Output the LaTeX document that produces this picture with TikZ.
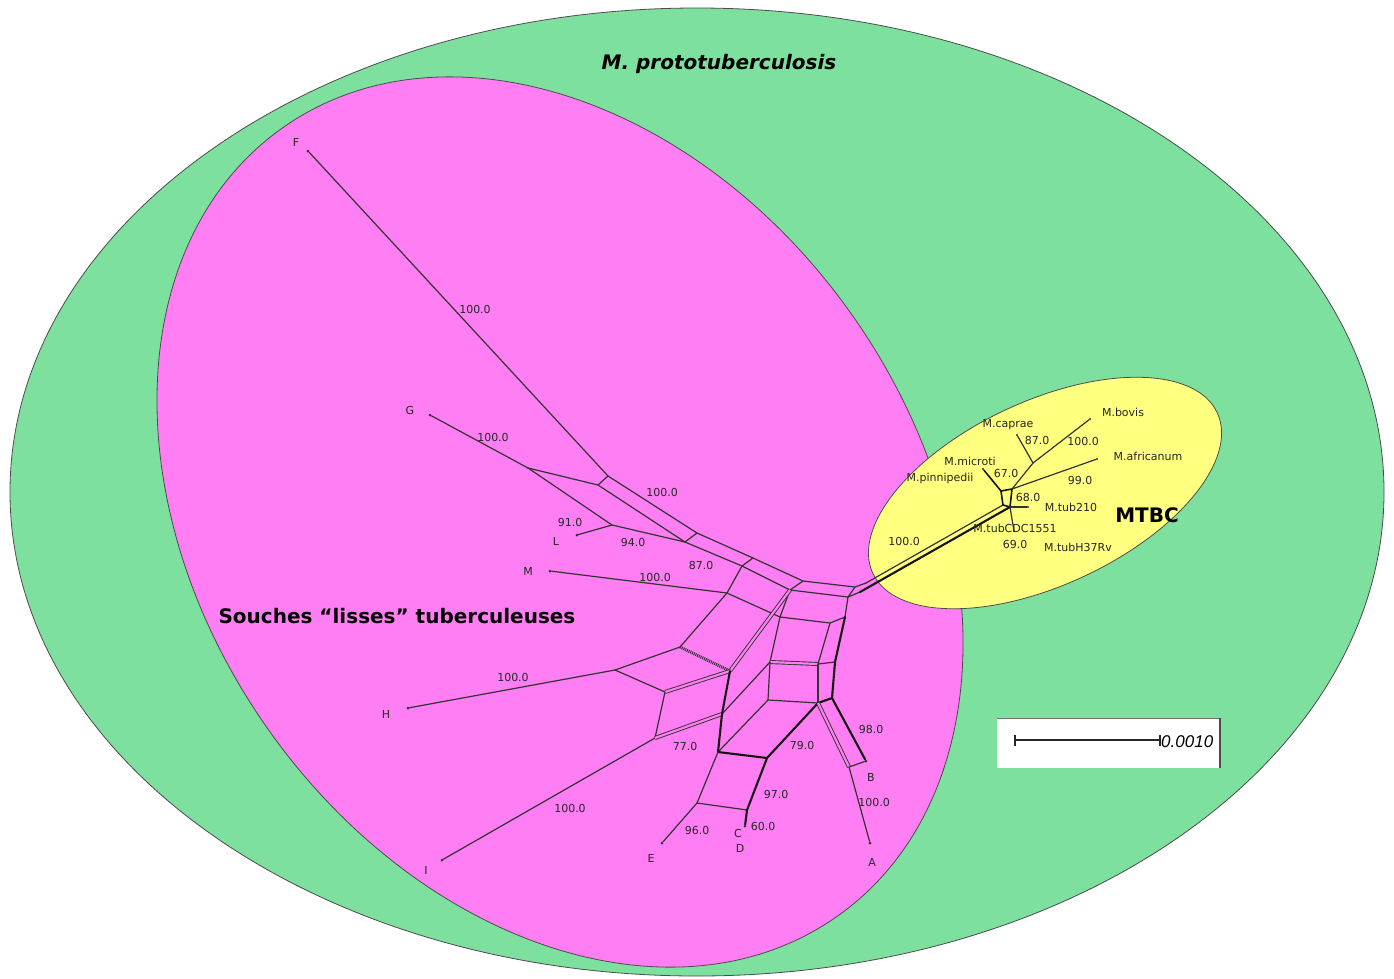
\documentclass[tikz,border=0pt]{standalone}
\usepackage{fontspec}
\setmainfont{DejaVu Sans}
\newfontfamily\barfont{Liberation Sans}
\definecolor{protogreen}{RGB}{126,224,158}
\definecolor{smoothpink}{RGB}{255,126,243}
\definecolor{mtbcyellow}{RGB}{255,255,128}
\begin{document}
\begin{tikzpicture}[x=1pt,y=-1pt,
  zone/.style={draw=black!70, line width=0.8pt},
  e/.style={draw=black!80, line width=1.2pt, line cap=round, line join=round},
  eb/.style={draw=black!92, line width=2.1pt, line cap=round, line join=round},
  ed/.style={draw=black!80, line width=0.9pt, double=smoothpink, double distance=2.2pt},
  hatch/.style={draw=black!80, line width=3pt, dash pattern=on 1pt off 0.9pt},
  leaf/.style={circle, fill=black!80, inner sep=0pt, minimum size=3pt},
  lab/.style={font=\fontsize{11}{12}\selectfont, text=black!85, inner sep=0pt},
  big/.style={font=\fontsize{20}{22}\selectfont\bfseries, inner sep=0pt}]
\useasboundingbox (0,0) rectangle (1394,978);
\fill[white] (0,0) rectangle (1394,978);

% nested groups
\draw[zone, fill=protogreen] (697,492) ellipse [x radius=687pt, y radius=484pt];
\draw[zone, fill=smoothpink, rotate around={-55:(560,522)}] (560,522) ellipse [x radius=482pt, y radius=358pt];
\draw[zone, fill=mtbcyellow, rotate around={25:(1045,493)}] (1045,493) ellipse [x radius=190pt, y radius=92pt];

% leaves of the smooth strains
\node[leaf] (F) at (308,151) {};
\node[leaf] (G) at (430,415) {};
\node[leaf] (L) at (577,535) {};
\node[leaf] (M) at (550,571) {};
\node[leaf] (H) at (408,708) {};
\node[leaf] (I) at (442,860) {};
\node[leaf] (E) at (662,843) {};
\node[leaf] (CD) at (745,826) {};
\node[leaf] (B) at (866,761) {};
\node[leaf] (A) at (870,843) {};

% internal vertices of the split network
\coordinate (g) at (528,468);
\coordinate (l) at (612,525);
\coordinate (a1) at (608,476);
\coordinate (b1) at (598,485);
\coordinate (a2) at (697,533);
\coordinate (b2) at (685,542);
\coordinate (a3) at (753,558);
\coordinate (b3) at (742,566);
\coordinate (a4) at (803,581);
\coordinate (b4) at (790,590);
\coordinate (a5) at (855,587);
\coordinate (b5) at (848,597);
\coordinate (c1) at (727,593);
\coordinate (c2) at (780,617);
\coordinate (c3) at (830,623);
\coordinate (c4) at (845,617);
\coordinate (h1) at (866,583);
\coordinate (h2) at (860,592);
\coordinate (m1) at (680,647);
\coordinate (hj) at (615,670);
\coordinate (m3) at (665,692);
\coordinate (m4) at (730,671);
\coordinate (ij) at (655,738);
\coordinate (n1) at (722,714);
\coordinate (n2) at (718,752);
\coordinate (w1) at (770,662);
\coordinate (w2) at (818,664);
\coordinate (w3) at (835,662);
\coordinate (v1) at (768,700);
\coordinate (v2) at (818,703);
\coordinate (v3) at (832,698);
\coordinate (p1) at (767,758);
\coordinate (q1) at (697,803);
\coordinate (q2) at (747,810);
\coordinate (s1) at (849,767);

% upper bands
\draw[e] (F) -- (a1);
\draw[e] (G) -- (g);
\draw[e] (g) -- (b1);
\draw[e] (a1) -- (b1);
\draw[e] (g) -- (l);
\draw[e] (L) -- (l);
\draw[e] (l) -- (b2);
\draw[e] (a1) -- (a2) -- (a3) -- (a4) -- (a5) -- (h1);
\draw[e] (b1) -- (b2) -- (b3) -- (b4) -- (b5) -- (h2);
\draw[e] (a2) -- (b2);
\draw[e] (a3) -- (b3);
\draw[e] (a4) -- (b4);
\draw[e] (a5) -- (b5);
\draw[e] (M) -- (c1) -- (c2) -- (c3) -- (c4) -- (b5);
\draw[e] (b3) -- (c1);
\draw[e] (b4) -- (c2);
\draw[e] (c1) -- (m1);
\draw[ed] (b4) -- (m4);

% central boxes
\draw[e] (c2) -- (w1);
\draw[e] (c3) -- (w2);
\draw[eb] (c4) -- (w3) -- (v3) -- (v2);
\draw[ed] (w1) -- (w2);
\draw[e] (w2) -- (w3);
\draw[e] (w1) -- (v1) -- (v2);
\draw[e] (w2) -- (v2);
\draw[e] (w1) -- (n1);
\draw[e] (v1) -- (n2);

% lower left
\draw[e] (H) -- (hj);
\draw[e] (hj) -- (m1);
\draw[hatch] (m1) -- (m4);
\draw[e] (hj) -- (m3);
\draw[ed] (m3) -- (m4);
\draw[e] (m3) -- (ij);
\draw[e] (I) -- (ij);
\draw[ed] (ij) -- (n1);
\draw[eb] (m4) -- (n1) -- (n2);
\draw[eb] (n2) -- (p1);
\draw[e] (n2) -- (q1);
\draw[e] (q1) -- (E);
\draw[e] (q1) -- (q2);
\draw[eb] (p1) -- (q2) -- (CD);
\draw[eb] (p1) -- (v2);

% lower right
\draw[eb] (v3) -- (B);
\draw[ed] (v2) -- (s1);
\draw[e] (s1) -- (B);
\draw[e] (s1) -- (A);

% MTBC subnetwork
\node[leaf, minimum size=2.4pt] (pin) at (983,469) {};
\node[leaf, minimum size=2.4pt] (cap) at (1017,435) {};
\node[leaf, minimum size=2.4pt] (bov) at (1090,419) {};
\node[leaf, minimum size=2.4pt] (afr) at (1097,459) {};
\node[leaf, minimum size=2.4pt] (t210) at (1028,507) {};
\node[leaf, minimum size=2.4pt] (cdc) at (1014,531) {};
\coordinate (k1) at (1001,491);
\coordinate (k2) at (1012,489);
\coordinate (k3) at (1010,507);
\coordinate (k4) at (1003,505);
\coordinate (j2) at (1033,463);
\draw[e] (h1) -- (k4);
\draw[eb] (h2) -- (k3);
\draw[eb, line width=1.6pt] (k1) -- (k2) -- (k3) -- (k4) -- cycle;
\draw[eb, line width=1.6pt] (k1) -- (pin);
\draw[e] (k2) -- (j2);
\draw[e] (j2) -- (cap);
\draw[e] (j2) -- (bov);
\draw[e] (k2) -- (afr);
\draw[e] (k3) -- (t210);
\draw[e] (k3) -- (cdc);

% leaf names
\node[lab] (lF) at (296,142) {F};
\node[lab] (lG) at (410,410) {G};
\node[lab] (lL) at (556,541) {L};
\node[lab] (lM) at (528,571) {M};
\node[lab] (lH) at (386,714) {H};
\node[lab] (lI) at (426,870) {I};
\node[lab] (lE) at (651,858) {E};
\node[lab] (lC) at (738,833) {C};
\node[lab] (lD) at (740,848) {D};
\node[lab] (lB) at (871,777) {B};
\node[lab] (lA) at (872,862) {A};

% bootstrap support values
\node[lab] (s01) at (475,309) {100.0};
\node[lab] (s02) at (493,437) {100.0};
\node[lab] (s03) at (662,492) {100.0};
\node[lab] (s04) at (570,522) {91.0};
\node[lab] (s05) at (633,542) {94.0};
\node[lab] (s06) at (701,565) {87.0};
\node[lab] (s07) at (655,577) {100.0};
\node[lab] (s08) at (513,677) {100.0};
\node[lab] (s09) at (685,746) {77.0};
\node[lab] (s10) at (802,745) {79.0};
\node[lab] (s11) at (871,729) {98.0};
\node[lab] (s12) at (874,802) {100.0};
\node[lab] (s13) at (776,794) {97.0};
\node[lab] (s14) at (763,826) {60.0};
\node[lab] (s15) at (697,830) {96.0};
\node[lab] (s16) at (570,808) {100.0};

% MTBC names and values
\node[lab] (nbov) at (1123,412) {M.bovis};
\node[lab] (ncap) at (1008,425) {M.caprae};
\node[lab] (v87) at (1037,440) {87.0};
\node[lab] (v100a) at (1083,441) {100.0};
\node[lab] (nafr) at (1148,456) {M.africanum};
\node[lab] (nmic) at (970,461) {M.microti};
\node[lab] (v67) at (1006,473) {67.0};
\node[lab] (npin) at (940,478) {M.pinnipedii};
\node[lab] (v99) at (1080,480) {99.0};
\node[lab] (v68) at (1028,497) {68.0};
\node[lab] (n210) at (1071,507) {M.tub210};
\node[lab] (ncdc) at (1015,528) {M.tubCDC1551};
\node[lab] (v69) at (1015,544) {69.0};
\node[lab] (nh37) at (1078,547) {M.tubH37Rv};
\node[lab] (v100b) at (904,541) {100.0};

% group titles
\node[big] (tproto) at (719,64) {\itshape M. prototuberculosis};
\node[big] (tsmooth) at (397,616) {Souches “lisses” tuberculeuses};
\node[big] (tmtbc) at (1147,515) {MTBC};

% scale bar
\fill[white] (997,718) rectangle (1221,768);
\draw[black!55, line width=1pt] (997,718) -- (1221,718);
\draw[black!70, line width=2pt] (1220,718) -- (1220,768);
\coordinate (sb1) at (1015,740);
\coordinate (sb2) at (1160,740);
\draw[black!85, line width=2.2pt] (sb1) -- (sb2);
\draw[black!85, line width=1.5pt] (1015,735) -- (1015,746);
\draw[black!85, line width=1.5pt] (1160,735) -- (1160,746);
\node[inner sep=0pt, font=\barfont\fontsize{17}{18}\selectfont\itshape, anchor=west] (sbt) at (1161,742) {0.0010};
\end{tikzpicture}
\end{document}
